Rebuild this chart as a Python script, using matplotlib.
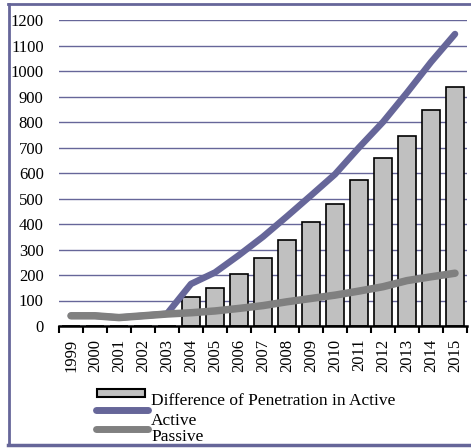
import matplotlib
matplotlib.use("Agg")
import matplotlib.pyplot as plt
import numpy as np
from matplotlib.lines import Line2D
from matplotlib.patches import Rectangle

years = [str(y) for y in range(1999, 2016)]
difference = [0, 0, 0, 0, 0, 113, 148, 203, 265, 336, 407, 477, 571, 658, 744, 846, 938]
active = [40, 40, 33, 40, 48, 165, 210, 278, 350, 430, 512, 595, 700, 800, 915, 1035, 1145]
passive = [40, 40, 33, 40, 47, 52, 59, 69, 80, 95, 108, 121, 137, 154, 178, 193, 207]
yticks = list(range(0, 1201, 100))

W, H = 471, 448
fig = plt.figure(figsize=(W / 100, H / 100), dpi=100)
plt.rcParams['font.family'] = ['Liberation Serif', 'DejaVu Serif']

grid_c = '#666699'
act_c = '#666699'
pas_c = '#808080'

# axes in pixel coords
L, R, T, B = 59, 467, 20, 326
ax = fig.add_axes([L / W, 1 - B / H, (R - L) / W, (B - T) / H])
x = np.arange(len(years))
ax.bar(x, difference, width=0.72, color='#c0c0c0', edgecolor='black', linewidth=1.2, zorder=2)
ax.plot(x, active, color=act_c, lw=4.7, solid_capstyle='round', solid_joinstyle='round', zorder=3)
ax.plot(x, passive, color=pas_c, lw=5.4, solid_capstyle='round', solid_joinstyle='round', zorder=4)

ax.set_xlim(-0.5, len(years) - 0.5)
ax.set_ylim(0, 1200)
ax.set_yticks(yticks)
ax.set_yticklabels([str(v) for v in yticks], fontsize=12)
ax.tick_params(axis='y', length=0, pad=11)
ax.yaxis.grid(True, color=grid_c, lw=1.0)
ax.set_axisbelow(True)
ax.set_xticks(x)
ax.set_xticklabels(years, rotation=90, fontsize=12)
ax.tick_params(axis='x', which='major', length=0, pad=9)
ax.set_xticks(np.arange(-0.5, len(years) + 0.5, 1), minor=True)
ax.tick_params(axis='x', which='minor', length=5, width=1.5, color='black', direction='out')
for s in ['left', 'right', 'top']:
    ax.spines[s].set_visible(False)
ax.spines['bottom'].set_linewidth(1.8)
ax.spines['bottom'].set_color('black')
ax.spines['bottom'].set_zorder(5)

# figure frame
def fx(px):
    return px / W
def fy(py):
    return 1 - py / H
fig.add_artist(Line2D([fx(9), fx(9)], [fy(4), fy(445)], color=grid_c, lw=2))
fig.add_artist(Line2D([fx(8), fx(475)], [fy(4), fy(4)], color=grid_c, lw=2))
fig.add_artist(Line2D([fx(8), fx(475)], [fy(445), fy(445)], color=grid_c, lw=2.5))

# legend (manual, mimicking the original layout)
fig.add_artist(Rectangle((fx(97), fy(397)), fx(145) - fx(97), fy(389) - fy(397),
                         facecolor='#c0c0c0', edgecolor='black', lw=1.5))
fig.text(fx(151), fy(401), 'Difference of Penetration in Active', fontsize=12.5, va='center', ha='left')
fig.add_artist(Line2D([fx(96), fx(148)], [fy(410), fy(410)], color=act_c, lw=5, solid_capstyle='round'))
fig.text(fx(151), fy(421), 'Active', fontsize=12.5, va='center', ha='left')
fig.add_artist(Line2D([fx(96), fx(148)], [fy(429), fy(429)], color=pas_c, lw=5, solid_capstyle='round'))
fig.text(fx(151), fy(437), 'Passive', fontsize=12.5, va='center', ha='left')

fig.savefig('out.png', dpi=100)
